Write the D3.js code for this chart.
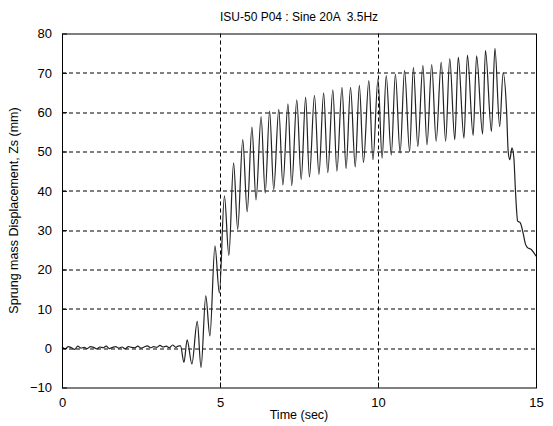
<!DOCTYPE html>
<html>
<head>
<meta charset="utf-8">
<script src="https://cdn.jsdelivr.net/npm/d3@7"></script>
<style>
  body { margin: 0; background: #fff; }
  text { font-family: "Liberation Sans", Arial, sans-serif; fill: #000; }
</style>
</head>
<body>
<div id="chart"></div>
<script>
// quiet part before the shaker starts (t = 0 .. 3.7 s, every 0.1 s)
var quietTime = [0.0, 0.1, 0.2, 0.3, 0.4, 0.5, 0.6, 0.7, 0.8, 0.9,
    1.0, 1.1, 1.2, 1.3, 1.4, 1.5, 1.6, 1.7, 1.8, 1.9,
    2.0, 2.1, 2.2, 2.3, 2.4, 2.5, 2.6, 2.7, 2.8, 2.9,
    3.0, 3.1, 3.2, 3.3, 3.4, 3.5, 3.6, 3.7];
var quietDisp = [0.3, -0.2, 0.4, 0.1, -0.3, 0.5, 0.0, 0.2, -0.1, 0.4,
    0.2, -0.2, 0.3, 0.1, 0.5, -0.1, 0.2, 0.4, 0.0, 0.3,
    -0.2, 0.4, 0.2, 0.1, 0.5, 0.0, 0.3, 0.6, 0.1, 0.4,
    0.2, 0.7, 0.3, 0.5, 0.1, 0.8, 0.2, 0.6];

// peaks and troughs of the 3.5 Hz response
var waveTime = [3.75, 3.86, 3.96, 4.11, 4.28, 4.40, 4.55, 4.68, 4.84, 4.98,
    5.14, 5.28, 5.43, 5.56, 5.72, 5.86, 6.01, 6.14, 6.30, 6.43,
    6.57, 6.70, 6.86, 6.99, 7.15, 7.27, 7.43, 7.57, 7.71, 7.83,
    7.99, 8.13, 8.28, 8.41, 8.57, 8.70, 8.86, 8.99, 9.13, 9.28,
    9.41, 9.54, 9.71, 9.84, 10.00, 10.13, 10.26, 10.42, 10.55, 10.70,
    10.84, 11.00, 11.12, 11.26, 11.42, 11.55, 11.70, 11.84, 12.00, 12.14,
    12.27, 12.43, 12.54, 12.72, 12.83, 13.01, 13.12, 13.31, 13.40, 13.59,
    13.70, 13.85, 13.96];
var waveDisp = [0.6, -3.6, 2.1, -4.0, 6.8, -4.9, 13.3, 3.1, 26.0, 14.0,
    38.7, 23.6, 47.1, 30.2, 53.0, 34.7, 56.2, 37.7, 58.9, 39.4,
    60.3, 40.3, 60.7, 41.5, 62.1, 41.3, 63.1, 42.9, 63.8, 43.5,
    64.3, 44.2, 64.9, 44.6, 65.7, 45.0, 66.3, 45.7, 66.3, 46.1,
    66.8, 47.2, 68.0, 47.9, 68.5, 48.3, 69.3, 49.1, 69.7, 49.6,
    70.6, 50.0, 71.4, 51.3, 71.9, 51.7, 72.1, 52.6, 72.7, 52.6,
    73.6, 53.0, 74.0, 53.4, 74.5, 54.1, 74.3, 54.4, 75.7, 55.1,
    76.2, 56.3, 70.0];

// drop after the shaker stops
var dropTime = [14.07, 14.12, 14.17, 14.24, 14.30, 14.35, 14.42, 14.50, 14.58, 14.67,
    14.74, 14.85, 14.93, 15.0];
var dropDisp = [60.2, 50.0, 47.9, 50.9, 48.3, 40.0, 32.3, 31.9, 29.7, 26.4,
    25.5, 25.1, 24.3, 23.4];

var xTicks = [0, 5, 10, 15];
var yTicks = [-10, 0, 10, 20, 30, 40, 50, 60, 70, 80];

var titleText = "ISU-50 P04 : Sine 20A  3.5Hz";
var xLabel = "Time (sec)";
var yLabel = "Sprung mass Displacement, Zs (mm)";

// set the dimensions and margins of the graph
var margin = { top: 33.5, right: 17, bottom: 38.5, left: 62 },
    width = 553 - margin.left - margin.right,
    height = 426 - margin.top - margin.bottom;

var svg = d3.select("#chart")
    .append("svg")
    .attr("width", 553)
    .attr("height", 426)
    .append("g")
    .attr("transform", "translate(" + margin.left + "," + margin.top + ")");

var x = d3.scaleLinear().domain([0, 15]).range([0, width]);
var y = d3.scaleLinear().domain([-10, 80]).range([height, 0]);

// grid
svg.append("g")
    .selectAll("line")
    .data(yTicks.slice(1, -1))
    .enter()
    .append("line")
    .attr("x1", 0)
    .attr("x2", width)
    .attr("y1", function(d) { return Math.round(y(d)) + 0.5; })
    .attr("y2", function(d) { return Math.round(y(d)) + 0.5; })
    .attr("stroke", "#000")
    .attr("stroke-dasharray", "4,3");

svg.append("g")
    .selectAll("line")
    .data(xTicks.slice(1, -1))
    .enter()
    .append("line")
    .attr("x1", function(d) { return Math.round(x(d)) + 0.5; })
    .attr("x2", function(d) { return Math.round(x(d)) + 0.5; })
    .attr("y1", 0)
    .attr("y2", height)
    .attr("stroke", "#000")
    .attr("stroke-dasharray", "4,3");

// the response trace
var pts = [];
quietTime.forEach(function(t, i) { pts.push([t, quietDisp[i]]); });
waveTime.forEach(function(t, i) { pts.push([t, waveDisp[i]]); });
dropTime.forEach(function(t, i) { pts.push([t, dropDisp[i]]); });

var line = d3.line()
    .x(function(d) { return x(d[0]); })
    .y(function(d) { return y(d[1]); })
    .curve(d3.curveMonotoneX);

svg.append("path")
    .datum(pts)
    .attr("fill", "none")
    .attr("stroke", "#222")
    .attr("stroke-width", 1.2)
    .attr("d", line);

// axes (matlab style box with inward ticks)
var xAxis = svg.append("g")
    .attr("transform", "translate(0," + height + ")")
    .call(d3.axisBottom(x).tickValues(xTicks).tickSizeInner(-5).tickSizeOuter(0).tickPadding(10));
var yAxis = svg.append("g")
    .call(d3.axisLeft(y).tickValues(yTicks).tickSizeInner(-5).tickSizeOuter(0).tickPadding(10));
[xAxis, yAxis].forEach(function(a) {
    a.select(".domain").remove();
    a.selectAll("text").style("font-size", "13px").attr("fill", "#000");
});

svg.append("rect")
    .attr("x", 0.5)
    .attr("y", 0.5)
    .attr("width", width)
    .attr("height", height)
    .attr("fill", "none")
    .attr("stroke", "#000");

// labels
svg.append("text")
    .attr("x", width / 2)
    .attr("y", -13)
    .attr("text-anchor", "middle")
    .style("font-size", "12px")
    .style("white-space", "pre")
    .text(titleText);

svg.append("text")
    .attr("x", width / 2)
    .attr("y", height + 31)
    .attr("text-anchor", "middle")
    .style("font-size", "12.5px")
    .text(xLabel);

svg.append("text")
    .attr("transform", "translate(" + (-44) + "," + (height / 2) + ") rotate(-90)")
    .attr("text-anchor", "middle")
    .style("font-size", "12.5px")
    .text(yLabel);
</script>
</body>
</html>
